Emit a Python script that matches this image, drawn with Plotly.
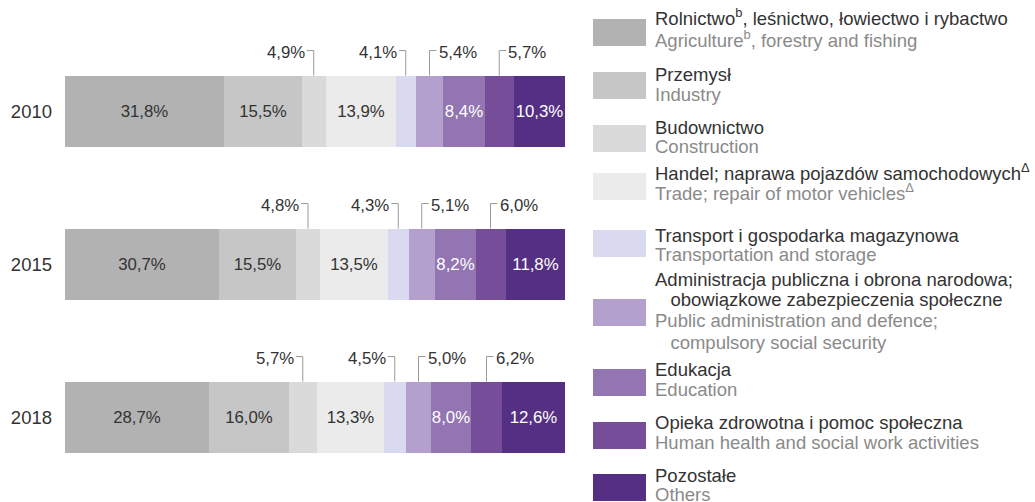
import plotly.graph_objects as go

# ---------------- data ----------------
years = ["2010", "2015", "2018"]

# legend texts: one list of lines per sector (Polish lines, English lines)
sector_pl = [
    ["Rolnictwo<sup>b</sup>, leśnictwo, łowiectwo i rybactwo"],
    ["Przemysł"],
    ["Budownictwo"],
    ["Handel; naprawa pojazdów samochodowych<sup>Δ</sup>"],
    ["Transport i gospodarka magazynowa"],
    ["Administracja publiczna i obrona narodowa;",
     "\u00a0\u00a0\u00a0obowiązkowe zabezpieczenia społeczne"],
    ["Edukacja"],
    ["Opieka zdrowotna i pomoc społeczna"],
    ["Pozostałe"],
]
sector_en = [
    ["Agriculture<sup>b</sup>, forestry and fishing"],
    ["Industry"],
    ["Construction"],
    ["Trade; repair of motor vehicles<sup>Δ</sup>"],
    ["Transportation and storage"],
    ["Public administration and defence;",
     "\u00a0\u00a0\u00a0compulsory social security"],
    ["Education"],
    ["Human health and social work activities"],
    ["Others"],
]

agriculture = [31.8, 30.7, 28.7]
industry = [15.5, 15.5, 16.0]
construction = [4.9, 4.8, 5.7]
trade = [13.9, 13.5, 13.3]
transport = [4.1, 4.3, 4.5]
public_admin = [5.4, 5.1, 5.0]
education = [8.4, 8.2, 8.0]
health = [5.7, 6.0, 6.2]
others = [10.3, 11.8, 12.6]

series = [agriculture, industry, construction, trade, transport,
          public_admin, education, health, others]

# ---------------- style ----------------
colors = ["#b1b2b1", "#c5c6c5", "#d9dad9", "#eaebea", "#d9daef",
          "#b4a0cd", "#9275b1", "#754d99", "#552f83"]
inside_text_color = ["#333333", "#333333", None, "#333333", None,
                     None, "#ffffff", None, "#ffffff"]
callout_side = [None, None, "left", None, "left", "right", None, "right", None]

FONT = "Liberation Sans, Arial, sans-serif"
DARK = "#333333"
GREY = "#8a8a8a"
LINE = "#9a9a9a"
LABEL_SIZE = 16.8
LEGEND_SIZE = 18.5

W, H = 1035, 502
ML, MR, MT, MB = 65, 470, 35, 8
PLOT_W = W - ML - MR
PLOT_H = H - MT - MB
BAR_W = 0.47

y_pos = list(range(len(years)))

fig = go.Figure()
for vals, name, color, tc in zip(series, sector_en, colors, inside_text_color):
    show = tc is not None
    if show:
        kw = dict(texttemplate="%{x:.1f}%", textposition="inside",
                  insidetextanchor="middle", textangle=0,
                  constraintext="none",
                  insidetextfont=dict(color=tc, size=LABEL_SIZE, family=FONT))
    else:
        kw = dict(textposition="none")
    fig.add_trace(go.Bar(
        y=y_pos, x=vals, orientation="h", name=name[0],
        width=BAR_W,
        marker=dict(color=color, line=dict(width=0)),
        hoverinfo="skip", showlegend=False, **kw,
    ))

# callouts for small segments
x_per_px = 100.0 / PLOT_W
y_per_px = len(years) / PLOT_H
shapes = []
annotations = []
for i, yr in enumerate(years):
    cum = 0.0
    for s, vals in enumerate(series):
        v = vals[i]
        side = callout_side[s]
        if side:
            cx = cum + v / 2
            top = i - BAR_W / 2
            y_hook = top - 25 * y_per_px
            dx = 7 * x_per_px * (-1 if side == "left" else 1)
            shapes.append(dict(type="line", xref="x", yref="y",
                               x0=cx, x1=cx, y0=top, y1=y_hook,
                               line=dict(color=LINE, width=1)))
            shapes.append(dict(type="line", xref="x", yref="y",
                               x0=cx, x1=cx + dx, y0=y_hook, y1=y_hook,
                               line=dict(color=LINE, width=1)))
            annotations.append(dict(
                x=cx + dx, y=y_hook + 2 * y_per_px, xref="x", yref="y",
                text=f"{v:.1f}".replace(".", ",") + "%",
                showarrow=False,
                xanchor="right" if side == "left" else "left",
                yanchor="middle",
                xshift=-1 if side == "left" else 1,
                borderpad=0,
                font=dict(size=LABEL_SIZE, color=DARK, family=FONT),
            ))
        cum += v

# manual legend (pixel layout)
def px_x(px):
    return (px - ML) / PLOT_W

def px_y(py):
    return 1 - (py - MT) / PLOT_H

swatch_tops = [19, 72, 125, 173, 230, 299, 369, 422, 474]
line_centers = [[20, 42], [75, 95], [128, 147], [175, 195], [236, 255],
                [280, 300, 321, 343], [370, 390], [423, 443], [476, 496]]
SW_X0, SW_W, SW_H, TXT_X = 593, 53, 27, 654
for top, ys, color, pl, en in zip(swatch_tops, line_centers, colors,
                                  sector_pl, sector_en):
    shapes.append(dict(type="rect", xref="paper", yref="paper",
                       x0=px_x(SW_X0), x1=px_x(SW_X0 + SW_W),
                       y0=px_y(top + SW_H), y1=px_y(top),
                       fillcolor=color, line=dict(width=0)))
    lines = [(t, DARK) for t in pl] + [(t, GREY) for t in en]
    for (txt, col), yc in zip(lines, ys):
        adj = -2 if "<sup>" in txt else 0
        annotations.append(dict(
            x=px_x(TXT_X), y=px_y(yc - 1 + adj), xref="paper", yref="paper",
            xanchor="left", yanchor="middle", align="left", showarrow=False,
            borderpad=0, text=txt,
            font=dict(size=LEGEND_SIZE, family=FONT, color=col),
        ))

fig.update_layout(
    width=W, height=H,
    margin=dict(l=ML, r=MR, t=MT, b=MB, pad=0),
    barmode="stack", bargap=0,
    separators=",.",
    plot_bgcolor="white", paper_bgcolor="white",
    font=dict(family=FONT, size=LABEL_SIZE, color=DARK),
    shapes=shapes, annotations=annotations,
    showlegend=False,
)
fig.update_xaxes(range=[0, 100], visible=False, fixedrange=True)
fig.update_yaxes(range=[len(years) - 0.5, -0.5], tickvals=y_pos, ticktext=years,
                 showgrid=False, zeroline=False, showline=False, ticks="",
                 ticklabelstandoff=12,
                 tickfont=dict(size=LEGEND_SIZE, color=DARK, family=FONT),
                 fixedrange=True)

fig.write_html("out.html", config={"displayModeBar": False},
               post_script="document.body.style.margin='0';"
                           "document.body.style.overflow='hidden';")
